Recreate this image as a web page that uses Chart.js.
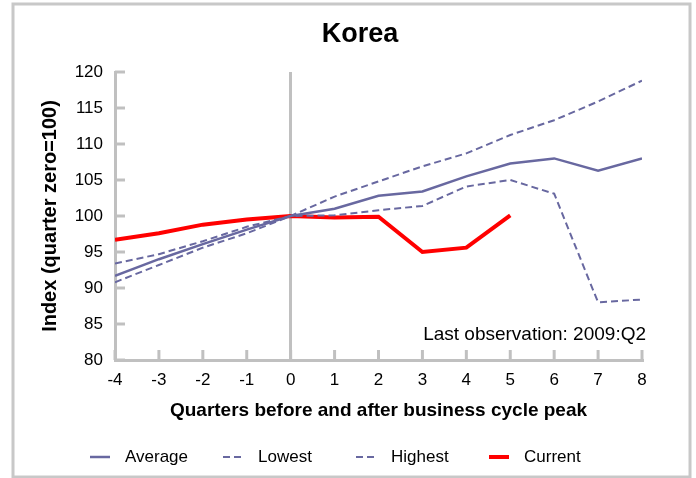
<!DOCTYPE html>
<html>
<head>
<meta charset="utf-8">
<script src="https://cdn.jsdelivr.net/npm/chart.js@4.4.0/dist/chart.umd.min.js"></script>
<style>
  body { margin: 0; background: #fff; }
  #wrap { width: 696px; height: 478px; }
</style>
</head>
<body>
<div id="wrap"><canvas id="grafico" width="696" height="478"></canvas></div>
<script>
const quarters = [-4, -3, -2, -1, 0, 1, 2, 3, 4, 5, 6, 7, 8];
const average = [91.7, 94.0, 96.1, 98.1, 100, 101.0, 102.8, 103.4, 105.5, 107.3, 108.0, 106.3, 108.0];
const lowest = [93.4, 94.7, 96.5, 98.5, 100, 100.1, 100.8, 101.4, 104.1, 105.0, 103.1, 88.0, 88.4];
const highest = [90.8, 93.2, 95.6, 97.6, 100, 102.7, 104.8, 106.9, 108.7, 111.25, 113.3, 115.9, 118.8];
const current = [96.7, 97.6, 98.8, 99.5, 100, 99.8, 99.9, 95.0, 95.6, 100.1];

const FONTE = "'Liberation Sans', Arial, sans-serif";
const CINZA = '#c0c0c0';
const ROXO = '#6868a0';

function pontos(valores) {
  return valores.map((v, i) => ({ x: quarters[i], y: v }));
}

// marcas dos eixos para dentro, titulo, nota, legenda e moldura
const extras = {
  id: 'extras',
  beforeDraw(chart) {
    const ctx = chart.ctx;
    ctx.save();
    ctx.strokeStyle = '#c8c8c8';
    ctx.lineWidth = 3;
    ctx.strokeRect(13, 4, 677, 473);
    ctx.restore();
  },
  afterDraw(chart) {
    const ctx = chart.ctx;
    const xs = chart.scales.x;
    const ys = chart.scales.y;
    const area = chart.chartArea;
    ctx.save();
    ctx.strokeStyle = CINZA;
    ctx.lineWidth = 3;
    xs.ticks.forEach(t => {
      const px = xs.getPixelForValue(t.value);
      ctx.beginPath();
      ctx.moveTo(px, area.bottom);
      ctx.lineTo(px, area.bottom - 10);
      ctx.stroke();
    });
    ys.ticks.forEach(t => {
      const py = ys.getPixelForValue(t.value);
      ctx.beginPath();
      ctx.moveTo(area.left, py);
      ctx.lineTo(area.left + 10, py);
      ctx.stroke();
    });

    ctx.fillStyle = '#000';
    ctx.font = 'bold 27px ' + FONTE;
    ctx.textAlign = 'center';
    ctx.textBaseline = 'middle';
    ctx.fillText('Korea', 360, 35);

    ctx.font = '19px ' + FONTE;
    ctx.textAlign = 'right';
    ctx.fillText('Last observation: 2009:Q2', 646, 335);

    // legenda
    ctx.font = '17px ' + FONTE;
    chart.data.datasets.forEach((ds, i) => {
      const x0 = 90 + i * 133;
      const y0 = 457;
      ctx.beginPath();
      ctx.strokeStyle = ds.borderColor;
      ctx.lineWidth = ds.borderWidth;
      ctx.setLineDash(ds.borderDash || []);
      ctx.moveTo(x0, y0);
      ctx.lineTo(x0 + 20, y0);
      ctx.stroke();
      ctx.setLineDash([]);
      ctx.fillStyle = '#000';
      ctx.textAlign = 'left';
      ctx.fillText(ds.label, x0 + 35, y0);
    });
    ctx.restore();
  }
};

new Chart(document.getElementById('grafico'), {
  type: 'line',
  data: {
    datasets: [
      { label: 'Average', data: pontos(average), borderColor: ROXO, borderWidth: 2.5 },
      { label: 'Lowest', data: pontos(lowest), borderColor: ROXO, borderWidth: 2, borderDash: [7, 4] },
      { label: 'Highest', data: pontos(highest), borderColor: ROXO, borderWidth: 2, borderDash: [7, 4] },
      { label: 'Current', data: pontos(current), borderColor: '#ff0000', borderWidth: 4 }
    ]
  },
  options: {
    responsive: false,
    animation: false,
    layout: { padding: { left: 13, right: 54, top: 72, bottom: 48 } },
    elements: { point: { radius: 0 }, line: { tension: 0 } },
    plugins: {
      legend: { display: false },
      title: { display: false },
      tooltip: { enabled: false }
    },
    scales: {
      x: {
        type: 'linear',
        min: -4,
        max: 8,
        afterFit: s => { s.height = 70; },
        ticks: { stepSize: 1, color: '#000', font: { family: FONTE, size: 17 }, padding: 10 },
        grid: {
          drawTicks: false,
          color: c => (c.tick && c.tick.value === 0 ? CINZA : 'transparent'),
          lineWidth: 3
        },
        border: { color: CINZA, width: 3 },
        title: {
          display: true,
          text: 'Quarters before and after business cycle peak',
          color: '#000',
          font: { family: FONTE, size: 19, weight: 'bold' },
          padding: { top: 0, bottom: 8 }
        }
      },
      y: {
        min: 80,
        max: 120,
        afterFit: s => { s.width = 102; },
        ticks: { stepSize: 5, color: '#000', font: { family: FONTE, size: 17 }, padding: 12 },
        grid: { display: true, drawTicks: false, color: 'transparent' },
        border: { color: CINZA, width: 3 },
        title: {
          display: true,
          text: 'Index (quarter zero=100)',
          color: '#000',
          font: { family: FONTE, size: 20, weight: 'bold' },
          padding: { top: 25, bottom: 0 }
        }
      }
    }
  },
  plugins: [extras]
});
</script>
</body>
</html>
